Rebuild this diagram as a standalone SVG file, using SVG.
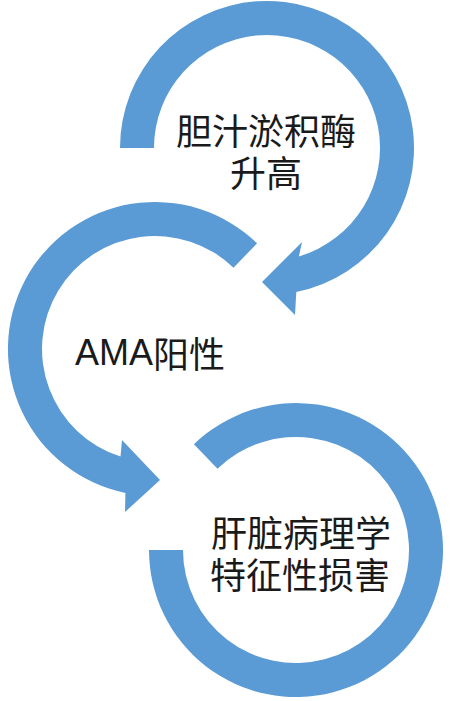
<svg xmlns="http://www.w3.org/2000/svg" width="450" height="701" viewBox="0 0 450 701">
  <style>
    .arc { fill: #5B9BD5; stroke: none; }
    .lbl { font-family: "Noto Sans CJK SC", "Liberation Sans", sans-serif; font-size: 36px; fill: #1a1a1a; text-anchor: middle; dominant-baseline: central; }
    .lat { font-family: "Liberation Sans", "Noto Sans CJK SC", sans-serif; }
  </style>
  <rect width="450" height="701" fill="#ffffff"/>
  <g id="connectors">
    <path id="arrow1" class="arc" d="M120,148 A147,147 0 1 1 296.3,292 L295,315 L262,282 L302,242 L298.9,256.4 A113,113 0 1 0 154,148 Z"/>
    <path id="arrow2" class="arc" d="M257.1,243.3 A147,147 0 1 0 125.4,493 L125,512 L160,480 L122,440 L120.5,456.6 A113,113 0 1 1 233.5,267.7 Z"/>
    <path id="ring3" class="arc" d="M149,550 A147,147 0 1 0 193.9,444.3 L217.5,468.7 A113,113 0 1 1 183,550 Z"/>
  </g>
  <g id="node1">
    <text class="lbl" x="266" y="129">胆汁淤积酶</text>
    <text class="lbl" x="266" y="171">升高</text>
  </g>
  <g id="node2">
    <text class="lbl" x="150" y="352"><tspan class="lat">AMA</tspan>阳性</text>
  </g>
  <g id="node3">
    <text class="lbl" x="301" y="531">肝脏病理学</text>
    <text class="lbl" x="300" y="573">特征性损害</text>
  </g>
</svg>
